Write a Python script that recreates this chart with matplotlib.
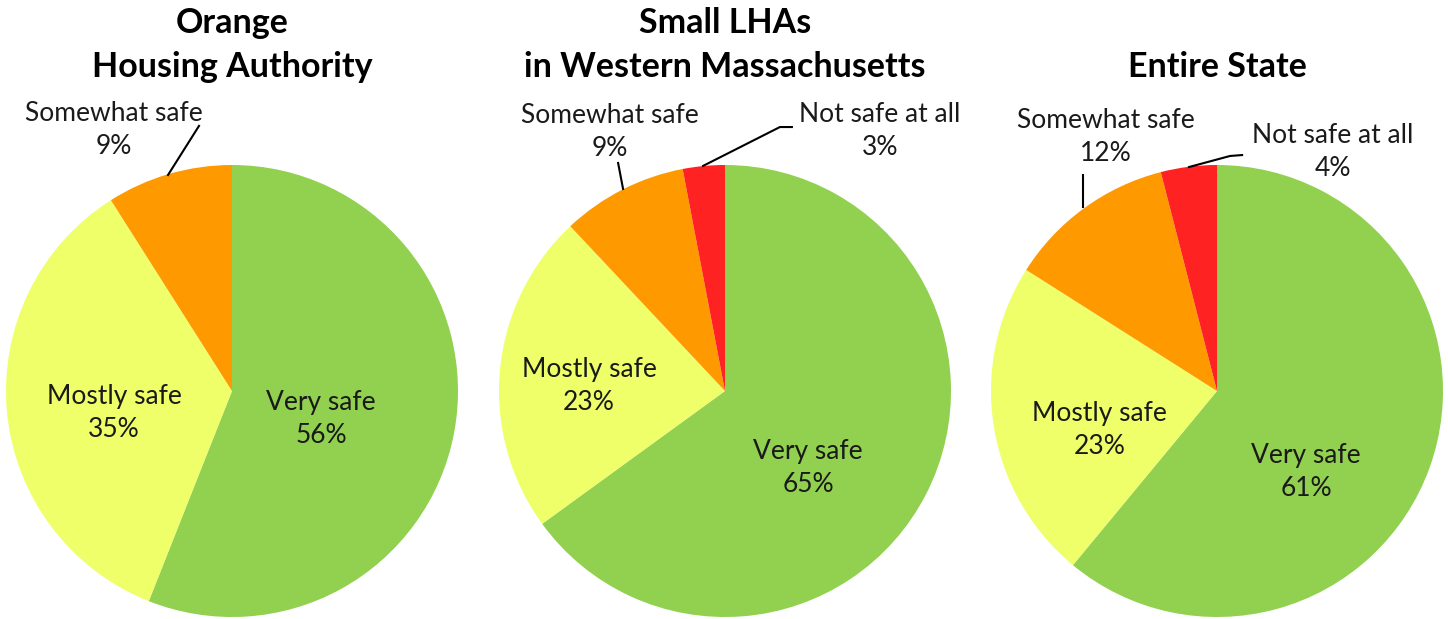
import matplotlib.pyplot as plt

# data
categories = ["Very safe", "Mostly safe", "Somewhat safe", "Not safe at all"]
titles = ["Orange\nHousing Authority", "Small LHAs\nin Western Massachusetts", "Entire State"]
orange_ha = [56, 35, 9, 0]
small_lhas = [65, 23, 9, 3]
entire_state = [61, 23, 12, 4]
colors = ["#92D050", "#EEFF6A", "#FF9900", "#FF2222"]

# label placement (pie data units, radius = 1)
label_pos = [
    [(0.394, -0.124), (-0.522, -0.097), (-0.522, 1.155), None],
    [(0.367, -0.341), (-0.602, 0.022), (-0.509, 1.146), (0.686, 1.150)],
    [(0.394, -0.358), (-0.518, -0.173), (-0.491, 1.124), (0.513, 1.058)],
]
leaders = [
    [None, None, [(-0.283, 0.956), (-0.146, 1.173)], None],
    [None, None, [(-0.451, 0.894), (-0.473, 1.009)],
     [(-0.097, 0.996), (0.243, 1.168), (0.296, 1.168)]],
    [None, None, [(-0.593, 0.814), (-0.593, 0.956)],
     [(-0.124, 0.991), (0.058, 1.040), (0.111, 1.044)]],
]

plt.rcParams['font.family'] = ['Lato', 'DejaVu Sans']

fig = plt.figure(figsize=(14.48, 6.19), dpi=100)
W, H = 1448, 619
R = 226
centers_x = [232, 725, 1217]
cy = 391

for i, vals in enumerate([orange_ha, small_lhas, entire_state]):
    cx = centers_x[i]
    ax = fig.add_axes([(cx - R) / W, (H - cy - R) / H, 2 * R / W, 2 * R / H])
    ax.pie(vals, colors=colors, startangle=90, counterclock=False,
           radius=1, wedgeprops=dict(linewidth=0))
    ax.set_xlim(-1, 1)
    ax.set_ylim(-1, 1)
    ax.set_aspect('auto')
    ax.axis('off')
    for j, v in enumerate(vals):
        if v == 0:
            continue
        x, y = label_pos[i][j]
        ax.text(x, y, f"{categories[j]}\n{v}%", ha='center', va='center',
                fontsize=19, color='#1a1a1a', linespacing=1.4, clip_on=False)
        if leaders[i][j] is not None:
            xs, ys = zip(*leaders[i][j])
            ax.plot(xs, ys, color='black', lw=1.5, clip_on=False)
    fig.text(cx / W, 1 - 83 / H, titles[i], ha='center', va='bottom',
             fontsize=24.5, fontweight='bold', linespacing=1.45)

fig.savefig("out.png", dpi=100)
